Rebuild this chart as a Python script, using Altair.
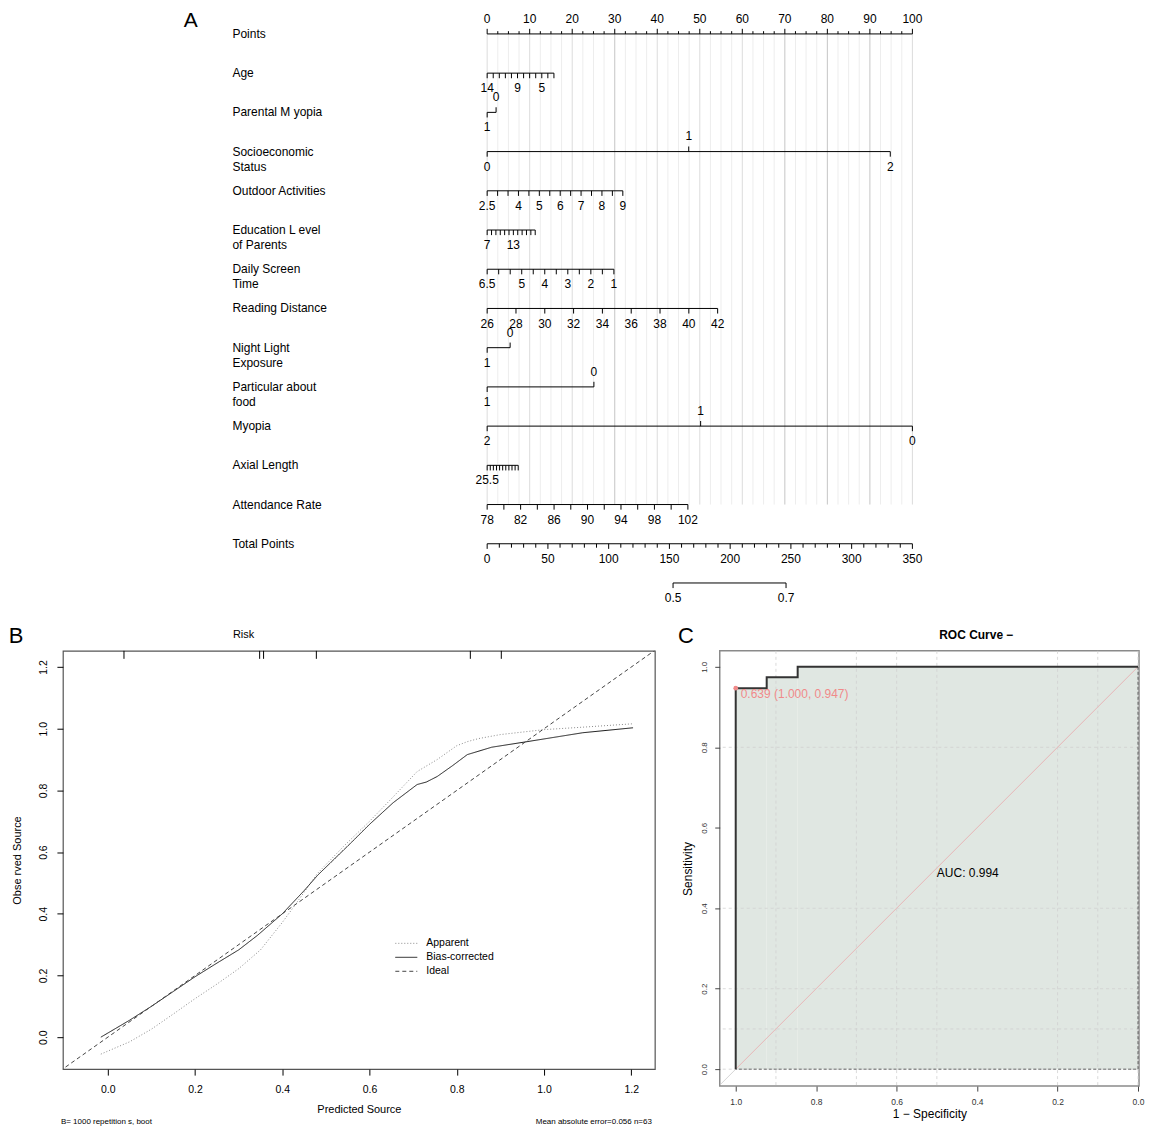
import altair as alt
import pandas as pd

FONT = "Liberation Sans, Arial, Helvetica, sans-serif"
NARROW = "Liberation Sans Narrow, Liberation Sans, Arial, sans-serif"

# ---------------- Panel A: nomogram data ----------------
row_names = ["Points", "Age", "Parental M yopia", "Socioeconomic\nStatus",
             "Outdoor Activities", "Education L evel\nof Parents", "Daily Screen\nTime",
             "Reading Distance", "Night Light\nExposure", "Particular about\nfood",
             "Myopia", "Axial Length", "Attendance Rate", "Total Points"]

points_vals = [i * 2.5 for i in range(41)]
points_labels = [0, 10, 20, 30, 40, 50, 60, 70, 80, 90, 100]
dark_grid = [30, 70, 80, 90]

age_vals = [14, 13, 12, 11, 10, 9, 8, 7, 6, 5, 4, 3]
age_pts_end = 15.7
age_labels = [14, 9, 5]

parental_vals = [1, 0]
parental_pts = [0.0, 2.1]

ses_vals = [0, 1, 2]
ses_pts = [0.0, 47.4, 94.8]

outdoor_vals = [2.5, 3, 3.5, 4, 4.5, 5, 5.5, 6, 6.5, 7, 7.5, 8, 8.5, 9]
outdoor_pts_end = 31.9
outdoor_labels = [2.5, 4, 5, 6, 7, 8, 9]

edu_vals = [7, 8, 9, 10, 11, 12, 13, 14, 15, 16, 17, 18]
edu_pts_end = 11.3
edu_labels = [7, 13]

screen_vals = [6.5, 6, 5.5, 5, 4.5, 4, 3.5, 3, 2.5, 2, 1.5, 1]
screen_pts_end = 29.8
screen_labels = [6.5, 5, 4, 3, 2, 1]

reading_vals = [26, 28, 30, 32, 34, 36, 38, 40, 42]
reading_pts_end = 54.2
reading_labels = [26, 28, 30, 32, 34, 36, 38, 40, 42]

night_vals = [1, 0]
night_pts = [0.0, 5.4]

food_vals = [1, 0]
food_pts = [0.0, 25.1]

myopia_vals = [2, 1, 0]
myopia_pts = [0.0, 50.2, 100.0]

axial_vals = [25.5, 25, 24.5, 24, 23.5, 23, 22.5, 22, 21.5, 21, 20.5]
axial_pts_end = 7.3
axial_labels = [25.5]

attend_vals = [78, 80, 82, 84, 86, 88, 90, 92, 94, 96, 98, 100, 102]
attend_pts_end = 47.2
attend_labels = [78, 82, 86, 90, 94, 98, 102]

total_vals = [i * 10 for i in range(36)]
total_labels = [0, 50, 100, 150, 200, 250, 300, 350]
total_max = 350.0

prob_vals = [0.5, 0.7]
prob_total = [153.0, 246.0]

# ---------------- Panel B: calibration data ----------------
app_x = [-0.016, 0.05, 0.10, 0.15, 0.20, 0.25, 0.30, 0.35, 0.40, 0.43, 0.48, 0.54,
         0.60, 0.648, 0.709, 0.755, 0.80, 0.824, 0.85, 0.90, 1.0, 1.1, 1.204]
app_y = [-0.055, -0.015, 0.026, 0.075, 0.125, 0.172, 0.222, 0.283, 0.372, 0.43, 0.53, 0.618,
         0.70, 0.770, 0.861, 0.90, 0.945, 0.958, 0.968, 0.981, 0.997, 1.006, 1.016]
bc_x = [-0.016, 0.05, 0.10, 0.15, 0.20, 0.25, 0.30, 0.343, 0.40, 0.45, 0.481, 0.556,
        0.60, 0.654, 0.709, 0.73, 0.755, 0.79, 0.824, 0.88, 0.961, 1.089, 1.204]
bc_y = [0.0, 0.055, 0.10, 0.148, 0.196, 0.24, 0.283, 0.33, 0.40, 0.475, 0.525, 0.628,
        0.69, 0.760, 0.819, 0.827, 0.845, 0.88, 0.916, 0.94, 0.958, 0.987, 1.003]
ideal_x = [-0.11, 1.26]
ideal_y = [-0.11, 1.26]
rug_x = [0.037, 0.348, 0.357, 0.478, 0.831, 0.902]
series_names = ["Apparent", "Bias-corrected", "Ideal"]
series_colors = ["#8a8a8a", "#1a1a1a", "#444444"]
series_dash = [[1, 2], [1, 0], [4, 3]]

# ---------------- Panel C: ROC data ----------------
roc_spec = [1.0, 1.0, 0.923, 0.923, 0.846, 0.846, 0.0]
roc_sens = [0.0, 0.947, 0.947, 0.974, 0.974, 1.0, 1.0]
thr_spec = [1.0]
thr_sens = [0.947]
thr_label = ["0.639 (1.000, 0.947)"]
auc_label = ["AUC: 0.994"]
roc_vgrid = [0.9, 0.7, 0.6, 0.5, 0.2, 0.1, 0.0]
roc_hgrid = [0.0, 0.1, 0.2, 0.4, 0.8]

# ================= build nomogram tables =================
def fmt(v):
    return str(int(v)) if float(v).is_integer() else str(v)

def lin(vals, end):
    v0, v1 = vals[0], vals[-1]
    return [(v - v0) / (v1 - v0) * end for v in vals]

axis_rows, tick_rows, label_rows = [], [], []
TICK = 0.13
LAB = 0.385

def add_axis(row, vals, pts, labels, above=(), tick_fn=None):
    axis_rows.append({"x": min(pts), "x2": max(pts), "y": row})
    for v, p in zip(vals, pts):
        s = -1 if v in above else 1
        tl = TICK if tick_fn is None else tick_fn(v)
        tick_rows.append({"x": p, "y": row, "y2": row + s * tl})
        if v in labels:
            label_rows.append({"x": p, "y": row + s * LAB, "text": fmt(v)})

add_axis(0, points_vals, points_vals, points_labels, above=points_vals,
         tick_fn=lambda v: 0.13 if v % 10 == 0 else 0.07)
add_axis(1, age_vals, lin(age_vals, age_pts_end), age_labels)
add_axis(2, parental_vals, parental_pts, [1, 0], above=[0])
add_axis(3, ses_vals, ses_pts, [0, 1, 2], above=[1])
add_axis(4, outdoor_vals, lin(outdoor_vals, outdoor_pts_end), outdoor_labels)
add_axis(5, edu_vals, lin(edu_vals, edu_pts_end), edu_labels)
add_axis(6, screen_vals, lin(screen_vals, screen_pts_end), screen_labels)
add_axis(7, reading_vals, lin(reading_vals, reading_pts_end), reading_labels)
add_axis(8, night_vals, night_pts, [1, 0], above=[0])
add_axis(9, food_vals, food_pts, [1, 0], above=[0])
add_axis(10, myopia_vals, myopia_pts, [2, 1, 0], above=[1])
add_axis(11, axial_vals, lin(axial_vals, axial_pts_end), axial_labels)
add_axis(12, attend_vals, lin(attend_vals, attend_pts_end), attend_labels)
add_axis(13, total_vals, [t / total_max * 100 for t in total_vals], total_labels,
         tick_fn=lambda v: 0.13 if v % 50 == 0 else 0.1)
add_axis(14, prob_vals, [t / total_max * 100 for t in prob_total], prob_vals)

def grid_color(v):
    if v in dark_grid:
        return "#c6c6c6"
    if v % 10 == 0:
        return "#dcdcdc"
    return "#ededed"

grid_df = pd.DataFrame({
    "x": points_vals,
    "y": [0] * len(points_vals),
    "y2": [12] * len(points_vals),
    "c": [grid_color(v) for v in points_vals],
})
axis_df = pd.DataFrame(axis_rows)
tick_df = pd.DataFrame(tick_rows)
lab_df = pd.DataFrame(label_rows)
name_df = pd.DataFrame({"x": [-59.9] * len(row_names), "y": list(range(len(row_names))),
                        "text": row_names})
letter_a = pd.DataFrame({"x": [-69.7], "y": [-0.33], "text": ["A"]})

NX = alt.X("x:Q", scale=alt.Scale(domain=[-99.77, 153.29], nice=False, zero=False), axis=None)
NY = alt.Y("y:Q", scale=alt.Scale(domain=[-0.636, 14.687], nice=False, zero=False, reverse=True),
           axis=None)

n_grid = alt.Chart(grid_df).mark_rule(strokeWidth=1).encode(
    x=NX, y=NY, y2="y2:Q", color=alt.Color("c:N", scale=None))
n_axis = alt.Chart(axis_df).mark_rule(color="black", strokeWidth=1).encode(x=NX, x2="x2:Q", y=NY)
n_tick = alt.Chart(tick_df).mark_rule(color="black", strokeWidth=1).encode(x=NX, y=NY, y2="y2:Q")
n_lab = alt.Chart(lab_df).mark_text(font=FONT, fontSize=12, color="black").encode(
    x=NX, y=NY, text="text:N")
n_name = alt.Chart(name_df).mark_text(font=FONT, fontSize=12, align="left", lineBreak="\n",
                                      lineHeight=15, color="black").encode(x=NX, y=NY, text="text:N")
n_a = alt.Chart(letter_a).mark_text(font=FONT, fontSize=21, color="black").encode(
    x=NX, y=NY, text="text:N")

nomo = alt.layer(n_grid, n_axis, n_tick, n_lab, n_name, n_a).properties(
    width=1078, height=602, view=alt.ViewBackground(stroke="transparent", strokeWidth=0))

# ================= calibration panel =================
cal_rows = []
for name, xs, ys in [("Apparent", app_x, app_y), ("Bias-corrected", bc_x, bc_y),
                     ("Ideal", ideal_x, ideal_y)]:
    for i, (a, b) in enumerate(zip(xs, ys)):
        cal_rows.append({"series": name, "x": a, "y": b, "o": i})
cal_df = pd.DataFrame(cal_rows)
rug_df = pd.DataFrame({"x": rug_x})

ticks12 = [0.0, 0.2, 0.4, 0.6, 0.8, 1.0, 1.2]
CX = alt.X("x:Q", scale=alt.Scale(domain=[-0.103, 1.254], nice=False, zero=False),
           axis=alt.Axis(values=ticks12, format=".1f", title="Predicted Source", grid=False,
                         domain=False, tickSize=6, tickColor="black", labelPadding=9,
                         labelFont=NARROW, labelFontSize=10.5, labelColor="black",
                         titleFont=NARROW, titleFontSize=11, titleFontWeight="normal",
                         titleColor="black", titlePadding=9))
CY = alt.Y("y:Q", scale=alt.Scale(domain=[-0.1036, 1.2524], nice=False, zero=False),
           axis=alt.Axis(values=ticks12, format=".1f", title="Obse rved Source", grid=False,
                         domain=False, tickSize=6, tickColor="black", labelPadding=8,
                         labelAngle=270, labelAlign="center", labelBaseline="bottom",
                         labelFont=NARROW, labelFontSize=10.5, labelColor="black",
                         titleFont=NARROW, titleFontSize=11, titleFontWeight="normal",
                         titleColor="black", titlePadding=16))

c_lines = alt.Chart(cal_df).mark_line(strokeWidth=1, clip=True).encode(
    x=CX, y=CY, order="o:Q",
    color=alt.Color("series:N", scale=alt.Scale(domain=series_names, range=series_colors),
                    legend=None),
    strokeDash=alt.StrokeDash("series:N", scale=alt.Scale(domain=series_names, range=series_dash),
                              legend=None),
)
c_rug = alt.Chart(rug_df).mark_rule(color="black", strokeWidth=1).encode(
    x=CX, y=alt.value(0), y2=alt.value(8))

def note(text, x, y, size, align="center", font=FONT, weight="normal", color="black"):
    return alt.Chart(pd.DataFrame({"t": [text]})).mark_text(
        font=font, fontSize=size, align=align, fontWeight=weight, color=color,
        baseline="middle").encode(x=alt.value(x), y=alt.value(y), text="t:N")

# hand-drawn legend (inside the calibration plot)
legend_layers = []
for k, (nm, col, dash) in enumerate(zip(series_names, series_colors, series_dash)):
    ly = 293 + 14 * k
    legend_layers.append(
        alt.Chart(pd.DataFrame({"t": [nm]})).mark_rule(color=col, strokeDash=dash, strokeWidth=1)
        .encode(x=alt.value(333), x2=alt.value(355), y=alt.value(ly)))
    legend_layers.append(note(nm, 364, ly, 10.5, align="left", font=NARROW))

calib = alt.layer(
    c_rug, c_lines, *legend_layers,
    note("B", -47, -15, 22),
    note("Risk", 181, -16, 11, font=NARROW),
    note("B= 1000 repetition s, boot", -2, 472, 8, align="left", font=NARROW),
    note("Mean absolute error=0.056 n=63", 590, 472, 8, align="right", font=NARROW),
).properties(width=593, height=419, view=alt.ViewBackground(stroke="#555555", strokeWidth=1.2))

# ================= ROC panel =================
RX = alt.X("x:Q", scale=alt.Scale(domain=[-0.0025, 1.0397], nice=False, zero=False, reverse=True),
           axis=alt.Axis(values=[0.0, 0.2, 0.4, 0.6, 0.8, 1.0], format=".1f",
                         title="1 \u2212 Specificity", grid=False, domain=False, tickSize=5,
                         tickColor="#444", labelPadding=6, labelFont=FONT, labelFontSize=8.5,
                         labelColor="#333", titleFont=FONT, titleFontSize=12,
                         titleFontWeight="normal", titleColor="black", titlePadding=3))
RY = alt.Y("y:Q", scale=alt.Scale(domain=[-0.042, 1.0397], nice=False, zero=False),
           axis=alt.Axis(values=[0.0, 0.2, 0.4, 0.6, 0.8, 1.0], format=".1f",
                         title="Sensitivity", grid=False, domain=False, tickSize=5,
                         tickColor="#444", labelPadding=6, labelAngle=270, labelAlign="center",
                         labelBaseline="bottom", labelFont=FONT, labelFontSize=8,
                         labelColor="#333", titleFont=FONT, titleFontSize=12,
                         titleFontWeight="normal", titleColor="black", titlePadding=6))

roc_df = pd.DataFrame({"x": roc_spec, "y": roc_sens, "o": list(range(len(roc_spec)))})
# fill under the step curve: one rectangle per horizontal step
fill_rows = []
for i in range(len(roc_spec) - 1):
    if roc_sens[i] == roc_sens[i + 1] and roc_spec[i] != roc_spec[i + 1]:
        fill_rows.append({"x": roc_spec[i], "x2": roc_spec[i + 1], "y": roc_sens[i], "y2": 0.0})
fill_df = pd.DataFrame(fill_rows)
outline_df = pd.DataFrame({"x": [0.0, 0.0, 1.0], "y": [1.0, 0.0, 0.0], "o": [0, 1, 2]})
diag_full = pd.DataFrame({"x": [1.0397, -0.0025], "y": [-0.0397, 1.0025]})
diag_in = pd.DataFrame({"x": [1.0, 0.0], "y": [0.0, 1.0]})
thr_df = pd.DataFrame({"x": thr_spec, "y": thr_sens, "t": thr_label})
auc_df = pd.DataFrame({"x": [0.5], "y": [0.5], "t": auc_label})

r_fill = alt.Chart(fill_df).mark_rect(color="#e0e7e2", opacity=1, strokeWidth=0).encode(
    x=RX, x2="x2:Q", y=RY, y2="y2:Q")
r_vgrid = alt.Chart(pd.DataFrame({"x": roc_vgrid})).mark_rule(
    color="#d0d0d0", strokeDash=[3, 3], strokeWidth=0.8).encode(x=RX)
r_hgrid = alt.Chart(pd.DataFrame({"y": roc_hgrid})).mark_rule(
    color="#d0d0d0", strokeDash=[3, 3], strokeWidth=0.8).encode(y=RY)
r_outline = alt.Chart(outline_df).mark_line(color="#444", strokeDash=[3, 2], strokeWidth=0.8).encode(
    x=RX, y=RY, order="o:Q")
r_diag_full = alt.Chart(diag_full).mark_line(color="#cccccc", strokeWidth=0.8, clip=True).encode(
    x=RX, y=RY)
r_diag_in = alt.Chart(diag_in).mark_line(color="#eabcbc", strokeWidth=1).encode(x=RX, y=RY)
r_curve = alt.Chart(roc_df).mark_line(color="#333333", strokeWidth=2).encode(
    x=RX, y=RY, order="o:Q")
r_thr_pt = alt.Chart(thr_df).mark_circle(color="#f08a8a", size=22, opacity=1).encode(x=RX, y=RY)
r_thr_tx = alt.Chart(thr_df).mark_text(color="#f08a8a", fontSize=12, font=FONT, align="left",
                                       baseline="top", dx=5, dy=1).encode(x=RX, y=RY, text="t:N")
r_auc = alt.Chart(auc_df).mark_text(color="black", fontSize=12, font=FONT, align="left",
                                    baseline="top").encode(x=RX, y=RY, text="t:N")

roc = alt.layer(
    r_fill, r_vgrid, r_hgrid, r_diag_full, r_diag_in, r_outline, r_curve, r_thr_pt, r_thr_tx,
    r_auc,
    note("ROC Curve \u2212", 257, -16, 12, weight="bold"),
    note("C", -34, -15, 22),
).properties(width=420, height=436, view=alt.ViewBackground(stroke="#8a8a8a", strokeWidth=1.5))

bottom = alt.hconcat(calib, roc, spacing=65, bounds="flush")
chart = alt.vconcat(nomo, bottom, spacing=41, bounds="flush").properties(
    padding=0
).configure_view(stroke=None).configure(font=FONT)

chart.save("out.html", embed_options={"renderer": "svg", "actions": False})
